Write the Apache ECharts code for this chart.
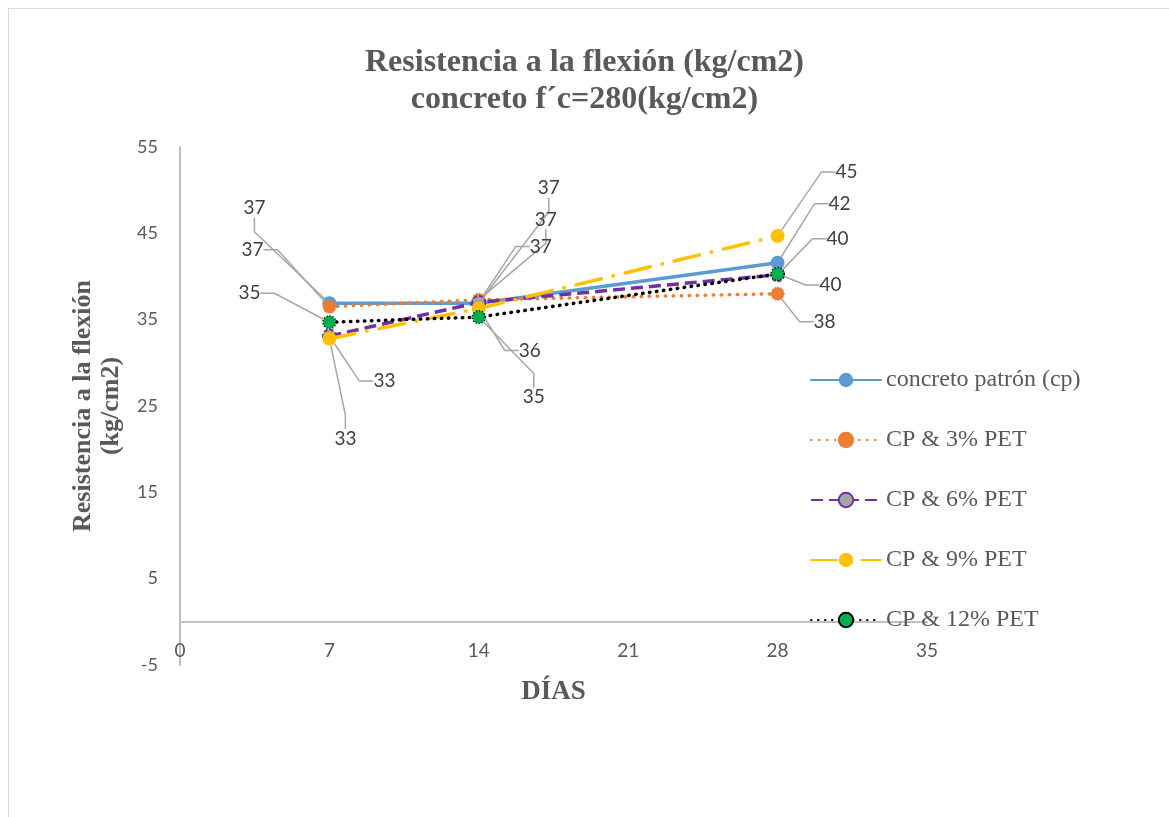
<!DOCTYPE html>
<html>
<head>
<meta charset="utf-8">
<script src="https://cdn.jsdelivr.net/npm/echarts@6/dist/echarts.min.js"></script>
<style>
html,body{margin:0;padding:0;background:#fff;}
#frame{position:absolute;left:8px;top:8px;width:1200px;height:900px;border:1px solid #d9d9d9;}
#chart{position:absolute;left:0;top:0;width:1169px;height:817px;}
</style>
</head>
<body>
<div id="frame"></div>
<div id="chart"></div>
<script>
// ---- data ----
const days = [7, 14, 28];
const seriesNames = ['concreto patrón (cp)', 'CP & 3% PET', 'CP & 6% PET', 'CP & 9% PET', 'CP & 12% PET'];
const cp   = [36.9, 36.9, 41.6];
const pet3 = [36.5, 37.3, 38.0];
const pet6 = [33.1, 37.0, 40.2];
const pet9 = [32.8, 36.3, 44.7];
const pet12 = [34.7, 35.3, 40.3];
const xTicks = {min: 0, max: 35, interval: 7};
const yTicks = {min: -5, max: 55, interval: 10};

// ---- label offsets (style only): [dx, dy] from the point to the label centre ----
const labelOffsets = [
  [[-75, -95], [70, -115], [62, -59]],
  [[-77, -57], [67, -80], [47, 28]],
  [[55, 45], [62, -56], [60, -36]],
  [[16, 100], [51, 42], [69, -64]],
  [[-80, -29], [55, 80], [53, 11]]
];

const values = [cp, pet3, pet6, pet9, pet12];
const styles = [
  {color: '#5B9BD5', line: {type: 'solid', width: 3.5, cap: 'round'}, item: {color: '#5B9BD5'}, size: 14},
  {color: '#ED7D31', line: {type: [0.5, 7.5], width: 3.5, cap: 'round'}, item: {color: '#ED7D31', borderColor: '#ED7D31', borderWidth: 1.5, borderType: [1, 2]}, size: 13},
  {color: '#7030A0', line: {type: [12, 6], width: 3.5, cap: 'butt'}, item: {color: '#A5A5A5', borderColor: '#7030A0', borderWidth: 2, borderType: [4, 2]}, size: 13},
  {color: '#FFC000', line: {type: [26, 12, 0.5, 12], width: 3.5, cap: 'round'}, item: {color: '#FFC000'}, size: 14},
  {color: '#000000', line: {type: [0.5, 6.5], width: 3.5, cap: 'round'}, item: {color: '#00B050', borderColor: '#000000', borderWidth: 1.5, borderType: [1, 2]}, size: 13}
];

const chart = echarts.init(document.getElementById('chart'));
const series = values.map((vals, si) => ({
  name: seriesNames[si],
  type: 'line',
  data: days.map((d, i) => [d, vals[i]]),
  symbol: 'circle',
  symbolSize: styles[si].size,
  color: styles[si].color,
  lineStyle: Object.assign({color: styles[si].color}, styles[si].line),
  itemStyle: styles[si].item,
  z: 2 + si,
  label: {
    show: true,
    position: 'inside',
    formatter: p => Math.round(p.value[1]).toString(),
    fontFamily: 'Lato',
    fontSize: 19,
    color: '#404040'
  },
  labelLine: {show: true, length2: 14, lineStyle: {color: '#A6A6A6', width: 1.5}},
  labelLayout: params => ({dx: labelOffsets[si][params.dataIndex][0], dy: labelOffsets[si][params.dataIndex][1]}),
  emphasis: {disabled: true},
  animation: false
}));

chart.setOption({
  animation: false,
  title: {
    text: 'Resistencia a la flexión (kg/cm2)\nconcreto f´c=280(kg/cm2)',
    left: 'center',
    top: 39,
    textStyle: {fontFamily: 'Liberation Serif', fontWeight: 'bold', fontSize: 32, color: '#595959', lineHeight: 37}
  },
  legend: {
    orient: 'vertical',
    left: 805,
    top: 363,
    itemWidth: 70,
    itemHeight: 18,
    itemGap: 36,
    data: seriesNames,
    textStyle: {fontFamily: 'Liberation Serif', fontSize: 24, lineHeight: 24, color: '#595959'}
  },
  grid: {left: 180, right: 242, top: 147, bottom: 152, containLabel: false},
  xAxis: {
    type: 'value',
    min: xTicks.min, max: xTicks.max, interval: xTicks.interval,
    name: 'DÍAS',
    nameLocation: 'middle',
    nameGap: 14,
    nameTextStyle: {fontFamily: 'Liberation Serif', fontWeight: 'bold', fontSize: 27, color: '#595959'},
    axisLine: {show: true, onZero: true, lineStyle: {color: '#BFBFBF', width: 2}},
    axisTick: {show: false},
    splitLine: {show: false},
    axisLabel: {margin: -24, fontFamily: 'Lato', fontSize: 19, color: '#595959'}
  },
  yAxis: {
    type: 'value',
    min: yTicks.min, max: yTicks.max, interval: yTicks.interval,
    name: 'Resistencia a la flexión\n(kg/cm2)',
    nameLocation: 'middle',
    nameRotate: 90,
    nameGap: 55,
    nameTextStyle: {fontFamily: 'Liberation Serif', fontWeight: 'bold', fontSize: 26, color: '#595959', lineHeight: 28},
    axisLine: {show: true, onZero: false, lineStyle: {color: '#BFBFBF', width: 2}},
    axisTick: {show: false},
    splitLine: {show: false},
    axisLabel: {margin: 22, fontFamily: 'Lato', fontSize: 18, color: '#595959'}
  },
  series: series
});
</script>
</body>
</html>
